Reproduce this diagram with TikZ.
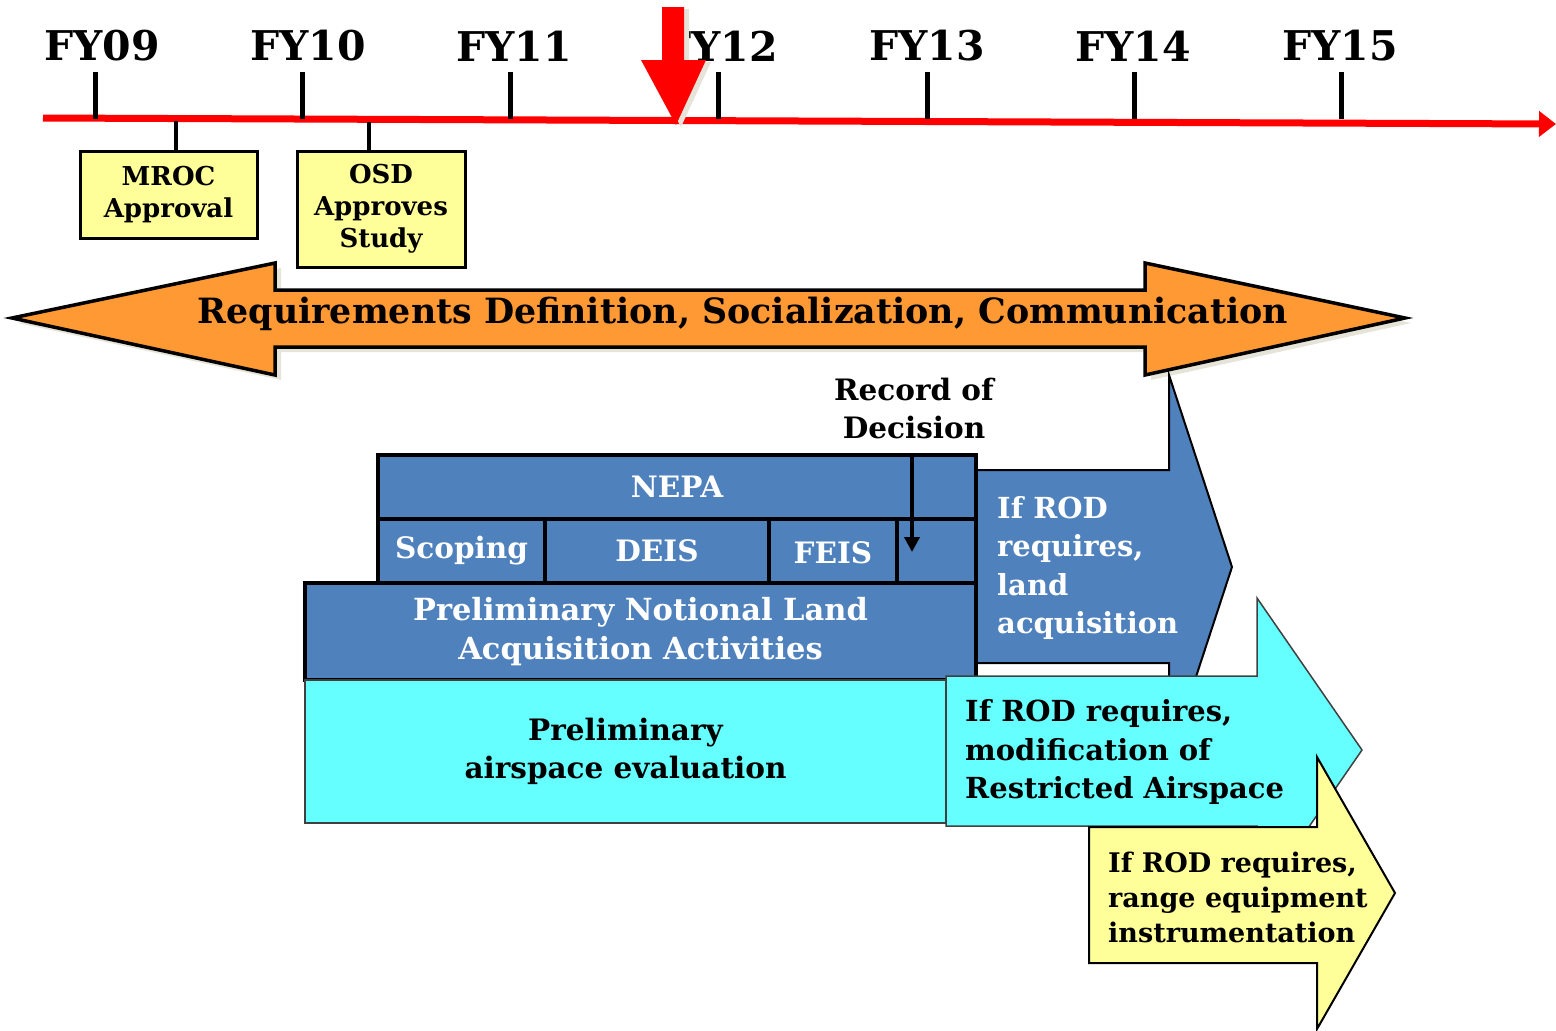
\documentclass[tikz,border=0pt]{standalone}
\usepackage{fontspec}
\setmainfont{DejaVu Serif}
\usetikzlibrary{arrows.meta}

\definecolor{nepablue}{HTML}{4F81BD}
\definecolor{aircyan}{HTML}{66FFFF}
\definecolor{noteyellow}{HTML}{FFFF99}
\definecolor{reqorange}{HTML}{FF9933}
\definecolor{shadowgray}{HTML}{E6E4D8}
\definecolor{nowred}{HTML}{FF0000}

\newcommand{\fsz}[2]{\fontsize{#1pt}{#2pt}\selectfont\bfseries}

\tikzset{
  timeline/.style={line width=7pt, draw=nowred, -{Triangle[length=17pt,width=25pt]}},
  yeartick/.style={line width=5pt},
  yearlabel/.style={font=\fsz{41}{48}, inner sep=0pt},
  stem/.style={line width=4pt},
  notebox/.style={draw, line width=3pt, fill=noteyellow, inner sep=0pt, outer sep=0pt, align=center, font=\fsz{26}{32}},
  nepacell/.style={draw, line width=4pt, fill=nepablue, text=white, inner sep=0pt, outer sep=0pt, anchor=north west, align=center, font=\fsz{29.5}{39}},
  plaintext/.style={inner sep=0pt, align=left, anchor=west, font=\fsz{29}{38.5}},
  rodarrow/.style={line width=4.5pt, -{Triangle[length=15pt,width=15pt]}}
}

\begin{document}
\begin{tikzpicture}[x=1pt, y=-1pt]
    \useasboundingbox (0,0) rectangle (1556,1031);

    % Timeline with fiscal years
    \coordinate (tlstart) at (43,118);
    \coordinate (tlend) at (1556,124);
    \draw[timeline] (tlstart) -- (tlend);
    \foreach \tx/\lx/\yr in {95/102/FY09, 302/308/FY10, 510/514/FY11, 718/720/FY12, 927/927/FY13, 1134/1133/FY14, 1341/1340/FY15} {
        \draw[yeartick] (\tx,72) -- (\tx,119);
        \node[yearlabel] (\yr) at (\lx,46) {\yr};
    }

    % Today marker
    \fill[shadowgray, shift={(5,2)}] (662,7) -- (684,7) -- (684,60) -- (706,60) -- (676,125) -- (641,60) -- (662,60) -- cycle;
    \fill[nowred] (662,7) -- (684,7) -- (684,60) -- (706,60) -- (676,125) -- (641,60) -- (662,60) -- cycle;

    % Milestone boxes
    \node[notebox, minimum width=177pt, minimum height=87pt] (mroc) at (168.5,194.5) {MROC\\Approval};
    \node[notebox, minimum width=168pt, minimum height=116pt] (osd) at (381,209) {OSD\\Approves\\Study};
    \coordinate (mroctap) at (176,121);
    \coordinate (osdtap) at (369,122);
    \draw[stem] (mroctap) -- (mroctap |- mroc.north);
    \draw[stem] (osdtap) -- (osdtap |- osd.north);

    % Requirements double arrow
    \fill[shadowgray, shift={(6,5)}] (12,318) -- (275,263) -- (275,290) -- (1145,290) -- (1145,263) -- (1405,318) -- (1145,375) -- (1145,347) -- (275,347) -- (275,375) -- cycle;
    \draw[line width=3.5pt, fill=reqorange, line join=miter] (12,318) -- (275,263) -- (275,290) -- (1145,290) -- (1145,263) -- (1405,318) -- (1145,375) -- (1145,347) -- (275,347) -- (275,375) -- cycle;
    \node[inner sep=0pt, font=\fsz{34.8}{40}] (reqs) at (743,314) {Requirements Definition, Socialization, Communication};

    % Land acquisition arrow
    \draw[line width=2pt, fill=nepablue] (900,470) -- (1169,470) -- (1169,375) -- (1232,567) -- (1169,759) -- (1169,663) -- (900,663) -- cycle;
    \node[plaintext, text=white] (landtext) at (997,568) {If ROD\\requires,\\land\\acquisition};

    % NEPA process
    \node[nepacell, minimum width=598pt, minimum height=64pt] (nepa) at (378,455) {NEPA};
    \node[nepacell, minimum width=167pt, minimum height=64pt] (scoping) at (378,519) {Scoping};
    \node[nepacell, minimum width=224pt, minimum height=64pt] (deis) at (545,519) {DEIS};
    \node[nepacell, minimum width=79pt, minimum height=64pt] (rodcell) at (897,519) {};
    \node[nepacell, minimum width=128pt, minimum height=67pt] (feis) at (769,519) {FEIS};
    \node[nepacell, minimum width=671pt, minimum height=97pt, font=\fsz{30.5}{39}] (pnl) at (305,583) {Preliminary Notional Land\\Acquisition Activities};

    % Record of Decision
    \node[inner sep=0pt, align=center, font=\fsz{29.5}{38}] (rod) at (914,408) {Record of\\Decision};
    \coordinate (rodtip) at (912,552);
    \draw[rodarrow] (nepa.north -| rodtip) -- (rodtip);

    % Airspace
    \node[draw=black!75, line width=1.5pt, fill=aircyan, inner sep=0pt, outer sep=0pt, anchor=north west, minimum width=641pt, minimum height=143pt, align=center, font=\fsz{29.5}{38.5}] (prelimair) at (305,680) {Preliminary\\airspace evaluation};
    \draw[draw=black!75, line width=1.5pt, fill=aircyan] (946,676) -- (1257,676) -- (1257,598) -- (1362,750) -- (1257,902) -- (1257,826) -- (946,826) -- cycle;
    \node[plaintext] (airtext) at (965,752) {If ROD requires,\\modification of\\Restricted Airspace};

    % Range equipment
    \draw[line width=2pt, fill=noteyellow] (1089,827) -- (1317,827) -- (1317,757) -- (1395,893) -- (1317,1029) -- (1317,963) -- (1089,963) -- cycle;
    \node[plaintext, font=\fsz{27}{35}] (rangetext) at (1108,897) {If ROD requires,\\range equipment\\instrumentation};
\end{tikzpicture}
\end{document}
